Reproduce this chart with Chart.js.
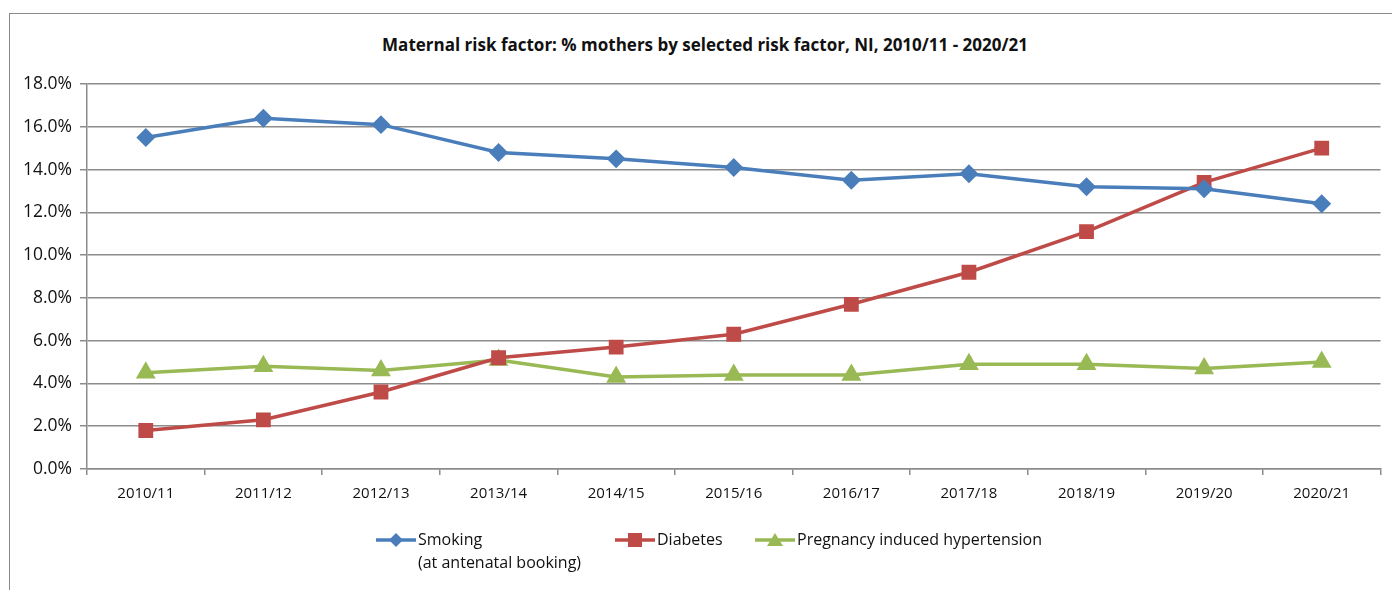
<!DOCTYPE html>
<html>
<head>
<meta charset="utf-8">
<script src="https://cdn.jsdelivr.net/npm/chart.js@4/dist/chart.umd.min.js"></script>
<style>
    body { margin: 0; background: #fff; font-family: "Liberation Sans Narrow", "Open Sans", sans-serif; }
    #wrap { position: relative; width: 1392px; height: 590px; overflow: hidden; }
    #frame { position: absolute; left: 9px; top: 13px; width: 1400px; height: 600px; border: 1.5px solid #8a8a8a; box-sizing: border-box; }
    #title { position: absolute; left: 0; width: 1410px; top: 33px; text-align: center; font-weight: bold; font-size: 17px; color: #111; }
    canvas { position: absolute; left: 0; top: 0; }
    .leg { position: absolute; font-size: 16px; color: #111; line-height: 23px; }
    .leg svg { position: absolute; left: -42px; top: 4px; }
</style>
</head>
<body>
<div id="wrap">
    <div id="frame"></div>
    <div id="title">Maternal risk factor: % mothers by selected risk factor, NI, 2010/11 - 2020/21</div>
    <canvas id="riskChart" width="1392" height="590"></canvas>
    <div class="leg" style="left:418px; top:528px;">
        <svg width="40" height="16"><line x1="0" y1="8" x2="40" y2="8" stroke="#4A7EBB" stroke-width="3.5"/><polygon points="20,1 27,8 20,15 13,8" fill="#4A7EBB"/></svg>
        Smoking<br>(at antenatal booking)
    </div>
    <div class="leg" style="left:657px; top:528px;">
        <svg width="40" height="16"><line x1="0" y1="8" x2="40" y2="8" stroke="#BE4B48" stroke-width="3.5"/><rect x="13" y="1" width="14" height="14" fill="#BE4B48"/></svg>
        Diabetes
    </div>
    <div class="leg" style="left:797px; top:528px;">
        <svg width="40" height="16"><line x1="0" y1="8" x2="40" y2="8" stroke="#98B954" stroke-width="3.5"/><polygon points="20,1 28,14 12,14" fill="#98B954"/></svg>
        Pregnancy induced hypertension
    </div>
</div>
<script>
// Data
const years = ['2010/11', '2011/12', '2012/13', '2013/14', '2014/15', '2015/16', '2016/17', '2017/18', '2018/19', '2019/20', '2020/21'];
const smoking = [15.5, 16.4, 16.1, 14.8, 14.5, 14.1, 13.5, 13.8, 13.2, 13.1, 12.4];
const diabetes = [1.8, 2.3, 3.6, 5.2, 5.7, 6.3, 7.7, 9.2, 11.1, 13.4, 15.0];
const hypertension = [4.5, 4.8, 4.6, 5.1, 4.3, 4.4, 4.4, 4.9, 4.9, 4.7, 5.0];

const gridColor = '#8c8c8c';
const fontFamily = '"Liberation Sans Narrow", "Open Sans", sans-serif';

const ctx = document.getElementById('riskChart').getContext('2d');
const riskChart = new Chart(ctx, {
    type: 'line',
    data: {
        labels: years,
        datasets: [
            {
                label: 'Smoking (at antenatal booking)',
                data: smoking,
                borderColor: '#4A7EBB',
                backgroundColor: '#4A7EBB',
                borderWidth: 3.5,
                pointStyle: 'rectRot',
                pointRadius: 7,
                tension: 0
            },
            {
                label: 'Diabetes',
                data: diabetes,
                borderColor: '#BE4B48',
                backgroundColor: '#BE4B48',
                borderWidth: 3.5,
                pointStyle: 'rect',
                pointRadius: 8,
                tension: 0
            },
            {
                label: 'Pregnancy induced hypertension',
                data: hypertension,
                borderColor: '#98B954',
                backgroundColor: '#98B954',
                borderWidth: 3.5,
                pointStyle: 'triangle',
                pointRadius: 8,
                tension: 0
            }
        ]
    },
    options: {
        responsive: false,
        animation: false,
        layout: {
            padding: { top: 84, right: 10, bottom: 0, left: 0 }
        },
        plugins: {
            legend: { display: false },
            title: { display: false },
            tooltip: { enabled: false }
        },
        scales: {
            x: {
                offset: true,
                grid: {
                    offset: true,
                    drawOnChartArea: false,
                    drawTicks: true,
                    tickLength: 6,
                    color: gridColor,
                    lineWidth: 1.5
                },
                border: { color: gridColor, width: 1.5 },
                ticks: {
                    color: '#111',
                    font: { family: fontFamily, size: 15 },
                    padding: 10,
                    maxRotation: 0
                },
                afterFit: scale => { scale.height = 590 - 469; }
            },
            y: {
                min: 0,
                max: 18,
                grid: {
                    color: gridColor,
                    lineWidth: 1.5,
                    tickLength: 7
                },
                border: { color: gridColor, width: 1.5 },
                ticks: {
                    stepSize: 2,
                    color: '#111',
                    font: { family: fontFamily, size: 17.5 },
                    padding: 8,
                    callback: value => value.toFixed(1) + '%'
                },
                afterFit: scale => { scale.width = 87; }
            }
        }
    }
});
</script>
</body>
</html>
